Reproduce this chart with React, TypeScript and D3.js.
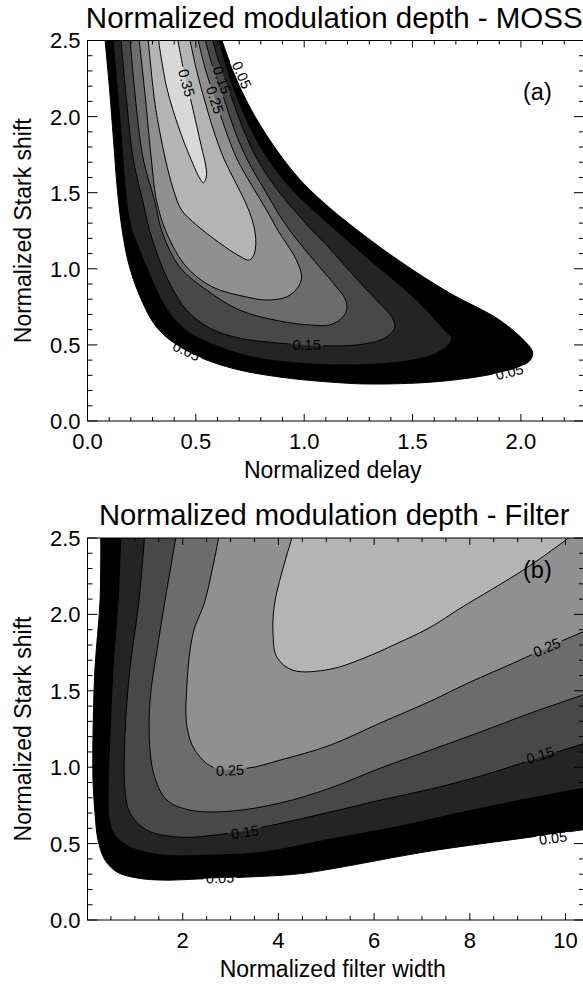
import React from 'react';
import * as d3 from 'd3';

type Pt = [number, number];

// ---------- Panel (a): MOSS — contour lines, [normalized delay, normalized Stark shift]
const mossLevels = [0.05, 0.10, 0.15, 0.20, 0.25, 0.30, 0.35];

const moss005: Pt[] = [
  [0.078, 2.549], [0.102, 2.175], [0.120, 1.846], [0.138, 1.518], [0.162, 1.235], [0.194, 1.012],
  [0.249, 0.795], [0.318, 0.618], [0.425, 0.486], [0.549, 0.401], [0.701, 0.335], [0.886, 0.289],
  [1.117, 0.256], [1.301, 0.243], [1.592, 0.256], [1.823, 0.296], [1.980, 0.348], [2.044, 0.401],
  [2.054, 0.453], [2.026, 0.512], [1.901, 0.664], [1.671, 0.841], [1.440, 1.051], [1.209, 1.294],
  [1.071, 1.459], [0.978, 1.590], [0.886, 1.754], [0.794, 1.951], [0.725, 2.129], [0.665, 2.326],
  [0.618, 2.516], [0.614, 2.549],
];
const moss010: Pt[] = [
  [0.115, 2.549], [0.138, 2.175], [0.157, 1.846], [0.175, 1.518], [0.198, 1.288], [0.231, 1.156],
  [0.272, 1.012], [0.341, 0.795], [0.392, 0.683], [0.471, 0.578], [0.609, 0.486], [0.761, 0.420],
  [0.964, 0.381], [1.209, 0.368], [1.440, 0.388], [1.592, 0.434], [1.661, 0.493], [1.680, 0.545],
  [1.647, 0.598], [1.518, 0.795], [1.287, 1.078], [1.057, 1.367], [0.955, 1.505], [0.863, 1.662],
  [0.785, 1.833], [0.720, 2.024], [0.669, 2.208], [0.628, 2.392], [0.600, 2.549],
];
const moss015: Pt[] = [
  [0.152, 2.549], [0.180, 2.109], [0.212, 1.715], [0.254, 1.452], [0.286, 1.255], [0.332, 1.058],
  [0.388, 0.880], [0.457, 0.729], [0.563, 0.611], [0.701, 0.545], [0.932, 0.506], [1.117, 0.493],
  [1.278, 0.506], [1.371, 0.545], [1.417, 0.611], [1.407, 0.677], [1.347, 0.775], [1.255, 0.913],
  [1.103, 1.156], [1.001, 1.308], [0.877, 1.518], [0.785, 1.715], [0.720, 1.912], [0.669, 2.109],
  [0.618, 2.306], [0.568, 2.549],
];
const moss020: Pt[] = [
  [0.194, 2.549], [0.222, 2.109], [0.258, 1.715], [0.309, 1.452], [0.346, 1.235], [0.425, 1.012],
  [0.549, 0.861], [0.701, 0.729], [0.886, 0.657], [1.024, 0.631], [1.117, 0.631], [1.163, 0.664],
  [1.195, 0.723], [1.191, 0.795], [1.149, 0.880], [1.071, 1.012], [0.978, 1.170], [0.900, 1.321],
  [0.817, 1.518], [0.738, 1.715], [0.678, 1.912], [0.632, 2.109], [0.582, 2.306], [0.535, 2.549],
];
const moss025: Pt[] = [
  [0.235, 2.549], [0.268, 2.109], [0.295, 1.715], [0.318, 1.452], [0.365, 1.235], [0.457, 1.012],
  [0.577, 0.880], [0.734, 0.815], [0.826, 0.795], [0.918, 0.815], [0.969, 0.874], [0.988, 0.946],
  [0.964, 1.058], [0.923, 1.156], [0.886, 1.235], [0.826, 1.386], [0.757, 1.551], [0.692, 1.715],
  [0.637, 1.912], [0.591, 2.109], [0.545, 2.306], [0.503, 2.549],
];
const moss030: Pt[] = [
  [0.277, 2.549], [0.309, 2.109], [0.332, 1.912], [0.360, 1.715], [0.397, 1.518], [0.434, 1.386],
  [0.503, 1.288], [0.609, 1.170], [0.701, 1.084], [0.748, 1.058], [0.771, 1.104], [0.775, 1.222],
  [0.757, 1.334], [0.734, 1.419], [0.701, 1.518], [0.632, 1.715], [0.581, 1.912], [0.540, 2.109],
  [0.503, 2.306], [0.466, 2.549],
];
const moss035: Pt[] = [
  [0.323, 2.549], [0.365, 2.194], [0.425, 1.912], [0.485, 1.695], [0.517, 1.597], [0.535, 1.564],
  [0.549, 1.610], [0.545, 1.682], [0.526, 1.800], [0.503, 1.945], [0.480, 2.089], [0.448, 2.273],
  [0.411, 2.549],
];
const mossContours = [moss005, moss010, moss015, moss020, moss025, moss030, moss035];

const mossLabelText = ['0.35', '0.25', '0.15', '0.05', '0.15', '0.05', '0.05'];
const mossLabelX = [0.457, 0.588, 0.620, 0.712, 1.011, 0.457, 1.947];
const mossLabelY = [2.221, 2.109, 2.240, 2.273, 0.499, 0.460, 0.322];
const mossLabelAngle = [75, 72, 70, 66, 0, 25, -14];

const mossXTicks = [0, 0.5, 1.0, 1.5, 2.0];

// ---------- Panel (b): Filter — contour lines, [normalized filter width, normalized Stark shift]
const filterLevels = [0.05, 0.10, 0.15, 0.20, 0.25, 0.30];

const filt005: Pt[] = [
  [0.286, 2.55], [0.272, 2.09], [0.167, 1.65], [0.125, 1.22], [0.125, 0.915], [0.167, 0.70],
  [0.230, 0.523], [0.376, 0.392], [0.627, 0.314], [1.045, 0.275], [1.588, 0.261], [2.30, 0.268],
  [3.34, 0.281], [4.39, 0.301], [5.08, 0.333], [7.17, 0.451], [9.26, 0.542], [10.47, 0.595],
];
const filt010: Pt[] = [
  [0.711, 2.55], [0.648, 2.09], [0.543, 1.65], [0.481, 1.22], [0.439, 0.784], [0.460, 0.667],
  [0.564, 0.562], [0.899, 0.477], [1.588, 0.425], [2.633, 0.425], [3.678, 0.444], [5.08, 0.529],
  [6.54, 0.614], [7.86, 0.706], [9.05, 0.784], [10.47, 0.869],
];
const filt015: Pt[] = [
  [1.212, 2.55], [1.087, 2.09], [0.899, 1.65], [0.794, 1.22], [0.794, 0.850], [0.899, 0.699],
  [1.254, 0.588], [1.944, 0.542], [2.99, 0.569], [3.678, 0.608], [5.08, 0.706], [6.12, 0.784],
  [7.17, 0.856], [8.21, 0.941], [9.47, 1.065], [10.47, 1.163],
];
const filt020: Pt[] = [
  [1.881, 2.55], [1.630, 2.09], [1.463, 1.765], [1.317, 1.438], [1.317, 1.111], [1.421, 0.928],
  [1.672, 0.784], [2.153, 0.719], [2.99, 0.712], [4.03, 0.765], [5.08, 0.863], [6.12, 0.993],
  [7.17, 1.111], [8.21, 1.229], [9.26, 1.353], [10.47, 1.484],
];
const filt025: Pt[] = [
  [2.78, 2.55], [2.466, 2.09], [2.215, 1.876], [2.09, 1.549], [2.09, 1.261], [2.257, 1.111],
  [2.633, 1.0], [3.344, 0.993], [4.03, 1.046], [5.08, 1.144], [6.12, 1.288], [7.17, 1.431],
  [8.00, 1.556], [8.90, 1.68], [9.95, 1.83], [10.47, 1.90],
];
const filt030: Pt[] = [
  [4.33, 2.55], [3.93, 2.09], [3.887, 1.876], [3.97, 1.719], [4.305, 1.634], [5.08, 1.641],
  [5.77, 1.712], [6.48, 1.81], [7.17, 1.915], [7.80, 2.04], [9.20, 2.307], [10.28, 2.55],
];
const filterContours = [filt005, filt010, filt015, filt020, filt025, filt030];

const filterLabelText = ['0.25', '0.25', '0.15', '0.15', '0.05', '0.05'];
const filterLabelX = [2.989, 9.61, 3.30, 9.47, 2.78, 9.74];
const filterLabelY = [0.980, 1.784, 0.575, 1.078, 0.275, 0.536];
const filterLabelAngle = [-3, -22, -8, -17, -2, -8];

const filterXTicks = [2, 4, 6, 8, 10];

const yTicks = [0, 0.5, 1.0, 1.5, 2.0, 2.5];

// ---------- styling
const GRAYS = ['#000000', '#242424', '#484848', '#6c6c6c', '#909090', '#b4b4b4', '#d8d8d8'];
const FONT = '"Liberation Sans", Arial, Helvetica, sans-serif';
const TICK_FS = 22;
const AXIS_FS = 23;
const LABEL_FS = 14.5;

type PanelProps = {
  id: string;
  title: string;
  titleSize: number;
  xTitle: string;
  tag: string;
  left: number; right: number; top: number; bottom: number;
  xDomain: [number, number];
  xMajor: number[];
  xMinorStep: number;
  xFormat: (v: number) => string;
  contours: Pt[][];
  labelText: string[]; labelX: number[]; labelY: number[]; labelAngle: number[];
  tagX: number; tagY: number;
};

function Panel(p: PanelProps) {
  const x = d3.scaleLinear().domain(p.xDomain).range([p.left, p.right]);
  const y = d3.scaleLinear().domain([0, 2.5]).range([p.bottom, p.top]);
  const line = d3.line<Pt>().x(d => x(d[0])).y(d => y(d[1])).curve(d3.curveCatmullRom.alpha(0.5));
  const closeX = p.right + 40;
  const closeY = p.top - 40;

  const xMinor = d3.range(Math.ceil(p.xDomain[0] / p.xMinorStep) * p.xMinorStep, p.xDomain[1] + 1e-9, p.xMinorStep)
    .filter(v => !p.xMajor.some(m => Math.abs(m - v) < 1e-6));
  const yMinor = d3.range(0, 2.5 + 1e-9, 0.1).filter(v => !yTicks.some(m => Math.abs(m - v) < 1e-6));
  const fmtY = d3.format('.1f');
  const cx = (p.left + p.right) / 2;
  const cy = (p.top + p.bottom) / 2;

  return (
    <g>
      <defs>
        <clipPath id={`clip-${p.id}`}>
          <rect x={p.left} y={p.top} width={p.right - p.left} height={p.bottom - p.top} />
        </clipPath>
        <mask id={`mask-${p.id}`} maskUnits="userSpaceOnUse" x={0} y={0} width={700} height={1000}>
          <rect x={0} y={0} width={700} height={1000} fill="white" />
          {p.labelText.map((t, i) => {
            const w = t.length * LABEL_FS * 0.5 + 4;
            return (
              <rect key={i} x={-w / 2} y={-6} width={w} height={12} fill="black"
                transform={`translate(${x(p.labelX[i])},${y(p.labelY[i])}) rotate(${p.labelAngle[i]})`} />
            );
          })}
        </mask>
      </defs>

      <g clipPath={`url(#clip-${p.id})`}>
        {p.contours.map((pts, i) => (
          <path key={`f${i}`} d={`${line(pts)}L${closeX},${closeY}Z`} fill={GRAYS[i]} stroke="none" />
        ))}
        <g mask={`url(#mask-${p.id})`}>
          {p.contours.map((pts, i) => (
            <path key={`l${i}`} d={line(pts) || ''} fill="none" stroke="#000" strokeWidth={1} />
          ))}
        </g>
        {p.labelText.map((t, i) => (
          <text key={`t${i}`} x={0} y={0} dy="0.35em" textAnchor="middle" fontSize={LABEL_FS} fontFamily={FONT} fill="#000"
            transform={`translate(${x(p.labelX[i])},${y(p.labelY[i])}) rotate(${p.labelAngle[i]})`}>{t}</text>
        ))}
      </g>

      {/* frame */}
      <rect x={p.left} y={p.top} width={p.right - p.left} height={p.bottom - p.top} fill="none" stroke="#000" strokeWidth={1} />

      {/* x ticks bottom & top */}
      {p.xMajor.map(v => (
        <g key={`xm${v}`}>
          <line x1={x(v)} x2={x(v)} y1={p.bottom} y2={p.bottom - 7} stroke="#000" />
          <line x1={x(v)} x2={x(v)} y1={p.top} y2={p.top + 7} stroke="#000" />
          <text x={x(v)} y={p.bottom + 28} textAnchor="middle" fontSize={TICK_FS} fontFamily={FONT}>{p.xFormat(v)}</text>
        </g>
      ))}
      {xMinor.map(v => (
        <g key={`xn${v}`}>
          <line x1={x(v)} x2={x(v)} y1={p.bottom} y2={p.bottom - 4} stroke="#000" />
          <line x1={x(v)} x2={x(v)} y1={p.top} y2={p.top + 4} stroke="#000" />
        </g>
      ))}
      {/* y ticks left & right */}
      {yTicks.map(v => (
        <g key={`ym${v}`}>
          <line x1={p.left} x2={p.left + 10} y1={y(v)} y2={y(v)} stroke="#000" />
          <line x1={p.right} x2={p.right - 10} y1={y(v)} y2={y(v)} stroke="#000" />
          <text x={p.left - 7} y={y(v)} dy="0.36em" textAnchor="end" fontSize={TICK_FS} fontFamily={FONT}>{fmtY(v)}</text>
        </g>
      ))}
      {yMinor.map(v => (
        <g key={`yn${v}`}>
          <line x1={p.left} x2={p.left + 5} y1={y(v)} y2={y(v)} stroke="#000" />
          <line x1={p.right} x2={p.right - 5} y1={y(v)} y2={y(v)} stroke="#000" />
        </g>
      ))}

      <text x={cx - 1.5} y={p.top - 13} textAnchor="middle" fontSize={p.titleSize} fontFamily={FONT}>{p.title}</text>
      <text x={cx - 3} y={p.bottom + 57} textAnchor="middle" fontSize={AXIS_FS} fontFamily={FONT}>{p.xTitle}</text>
      <text transform={`translate(31,${cy}) rotate(-90)`} textAnchor="middle" fontSize={AXIS_FS} fontFamily={FONT}>
        Normalized Stark shift
      </text>
      <text x={p.tagX} y={p.tagY} fontSize={23.5} fontFamily={FONT}>{p.tag}</text>
    </g>
  );
}

export default function App() {
  return (
    <svg width={583} height={984} viewBox="0 0 583 984"
      style={{ position: 'absolute', left: 0, top: 0, display: 'block', background: '#fff' }}>
      <rect x={0} y={0} width={583} height={984} fill="#fff" />
      <Panel
        id="a" title="Normalized modulation depth - MOSS" titleSize={29.5} xTitle="Normalized delay" tag="(a)"
        left={87.5} right={584} top={40.5} bottom={421}
        xDomain={[0, (584 - 87.5) / 216.7]} xMajor={mossXTicks} xMinorStep={0.1}
        xFormat={d3.format('.1f')}
        contours={mossContours}
        labelText={mossLabelText} labelX={mossLabelX} labelY={mossLabelY} labelAngle={mossLabelAngle}
        tagX={523} tagY={100}
      />
      <Panel
        id="b" title="Normalized modulation depth - Filter" titleSize={29.2} xTitle="Normalized filter width" tag="(b)"
        left={87.5} right={584} top={538} bottom={920}
        xDomain={[0.01, 0.01 + (584 - 87.5) / 47.85]} xMajor={filterXTicks} xMinorStep={0.5}
        xFormat={d3.format('d')}
        contours={filterContours}
        labelText={filterLabelText} labelX={filterLabelX} labelY={filterLabelY} labelAngle={filterLabelAngle}
        tagX={523} tagY={578}
      />
    </svg>
  );
}
